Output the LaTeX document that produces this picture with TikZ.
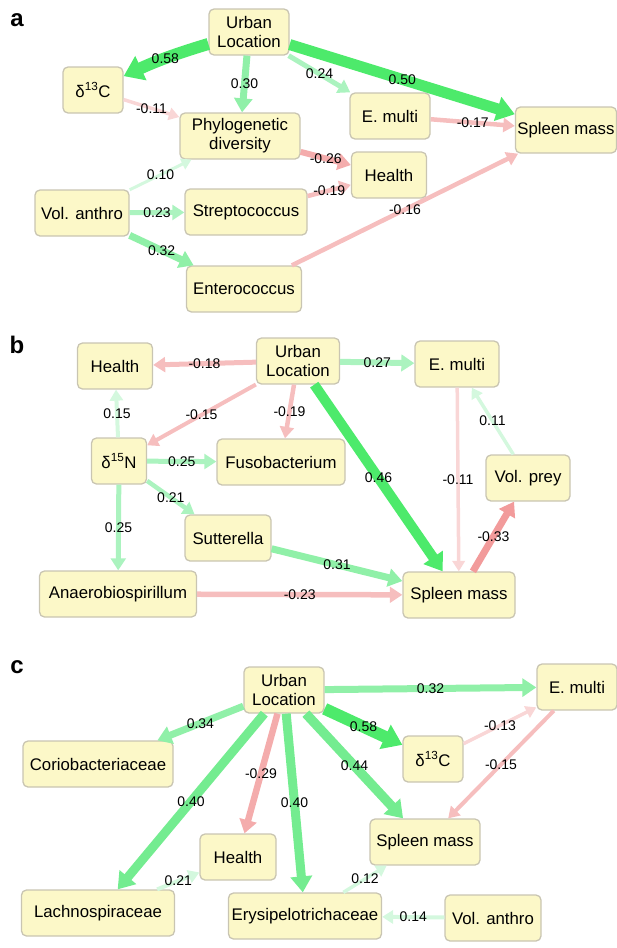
\documentclass[tikz,border=0pt]{standalone}
\usepackage{fontspec}
\setmainfont{Liberation Sans}
\usetikzlibrary{arrows.meta}
\definecolor{boxfill}{HTML}{FCF8C8}
\definecolor{boxline}{HTML}{C9C5B2}
\definecolor{gA}{HTML}{4DEA6B}
\definecolor{gB}{HTML}{74EC90}
\definecolor{gC}{HTML}{90F0A8}
\definecolor{gD}{HTML}{ABF3BF}
\definecolor{gE}{HTML}{D4F8DE}
\definecolor{rA}{HTML}{F29B9B}
\definecolor{rB}{HTML}{F4ACAC}
\definecolor{rC}{HTML}{F6BEBE}
\definecolor{rD}{HTML}{F9D6D6}
\begin{document}
\begin{tikzpicture}[x=1pt, y=-1pt, line join=round,
	box/.style={draw=boxline, fill=boxfill, rounded corners=5pt, line width=1.3pt, minimum height=46pt, inner sep=2pt, align=center, font=\fontsize{16.8}{19}\selectfont},
	lbl/.style={text=black, inner sep=0pt, font=\fontsize{14}{16}\selectfont},
	pth/.style={-{Triangle[length=7pt 1, width=7pt 1.55]}},
	tag/.style={font=\fontsize{24}{26}\selectfont\bfseries}]
	\useasboundingbox (0,0) rectangle (617,948);
	% panel a
	\node[tag] (ta) at (17,20) {a};
	\node[box, minimum width=80pt] (aUL) at (249,32) {Urban\\Location};
	\node[box, minimum width=60pt] (aC13) at (93,90) {δ\textsuperscript{13}C};
	\node[box, minimum width=120pt] (aPD) at (240,136) {Phylogenetic\\diversity};
	\node[box, minimum width=80pt] (aEM) at (390,116) {E. multi};
	\node[box, minimum width=98pt] (aSM) at (566,130) {Spleen mass};
	\node[box, minimum width=75pt] (aHE) at (389,175) {Health};
	\node[box, minimum width=94pt] (aVA) at (82,213) {Vol. anthro};
	\node[box, minimum width=122pt] (aST) at (246,212) {Streptococcus};
	\node[box, minimum width=115pt] (aEN) at (244,289) {Enterococcus};
	\draw[pth, color=gA, line width=12pt] (aUL) to[bend right=4] node[lbl]{0.58} (aC13);
	\foreach \f/\t/\w/\c/\v in {aUL/aPD/7/gC/0.30, aUL/aEM/5/gD/0.24, aUL/aSM/11/gA/0.50,
		aC13/aPD/3.5/rD/-0.11, aEM/aSM/4.5/rC/-0.17, aPD/aHE/6/rB/-0.26, aST/aHE/4.5/rC/-0.19,
		aVA/aPD/3/gE/0.10, aVA/aST/5/gD/0.23, aVA/aEN/7/gC/0.32, aEN/aSM/4.5/rC/-0.16}
		\draw[pth, color=\c, line width=\w pt] (\f) -- node[lbl]{\v} (\t);
	% panel b
	\node[tag] (tb) at (17,345) {b};
	\node[box, minimum width=75pt] (bHE) at (115,366) {Health};
	\node[box, minimum width=83pt] (bUL) at (298,361) {Urban\\Location};
	\node[box, minimum width=84pt] (bEM) at (457,364) {E. multi};
	\node[box, minimum width=55pt] (bN15) at (119,461) {δ\textsuperscript{15}N};
	\node[box, minimum width=128pt] (bFU) at (281,462) {Fusobacterium};
	\node[box, minimum width=84pt] (bVP) at (528,478) {Vol. prey};
	\node[box, minimum width=86pt] (bSU) at (228,538) {Sutterella};
	\node[box, minimum width=157pt] (bAN) at (118,594) {Anaerobiospirillum};
	\node[box, minimum width=112pt] (bSM) at (459,595) {Spleen mass};
	\foreach \f/\t/\w/\c/\v in {bUL/bHE/5/rC/-0.18, bUL/bEM/6/gD/0.27, bUL/bN15/4/rC/-0.15,
		bUL/bFU/4.5/rC/-0.19, bUL/bSM/10/gA/0.46, bN15/bHE/4/gE/0.15, bN15/bFU/5/gD/0.25,
		bN15/bSU/4.5/gD/0.21, bN15/bAN/5/gD/0.25, bSU/bSM/7/gC/0.31, bAN/bSM/5.5/rC/-0.23,
		bEM/bSM/3.5/rD/-0.11, bVP/bEM/3.5/gE/0.11, bSM/bVP/7/rA/-0.33}
		\draw[pth, color=\c, line width=\w pt] (\f) -- node[lbl]{\v} (\t);
	% panel c
	\node[tag] (tc) at (17,667) {c};
	\node[box, minimum width=80pt] (cUL) at (284,690) {Urban\\Location};
	\node[box, minimum width=80pt] (cEM) at (577,687) {E. multi};
	\node[box, minimum width=60pt] (cC13) at (433,759) {δ\textsuperscript{13}C};
	\node[box, minimum width=150pt] (cCO) at (98,764) {Coriobacteriaceae};
	\node[box, minimum width=110pt] (cSM) at (425,842) {Spleen mass};
	\node[box, minimum width=76pt] (cHE) at (238,857) {Health};
	\node[box, minimum width=153pt] (cLA) at (98,913) {Lachnospiraceae};
	\node[box, minimum width=153pt] (cER) at (305,916) {Erysipelotrichaceae};
	\node[box, minimum width=96pt] (cVA) at (493,918) {Vol. anthro};
	\foreach \f/\t/\w/\c/\v in {cUL/cEM/7/gC/0.32, cUL/cCO/7/gC/0.34, cUL/cC13/12/gA/0.58,
		cUL/cHE/6.5/rB/-0.29, cUL/cLA/9/gB/0.40, cUL/cER/9/gB/0.40, cUL/cSM/9.5/gB/0.44,
		cC13/cEM/3.5/rD/-0.13, cEM/cSM/4/rC/-0.15, cLA/cHE/4/gE/0.21, cER/cSM/3.5/gE/0.12,
		cVA/cER/4/gE/0.14}
		\draw[pth, color=\c, line width=\w pt] (\f) -- node[lbl]{\v} (\t);
\end{tikzpicture}
\end{document}
